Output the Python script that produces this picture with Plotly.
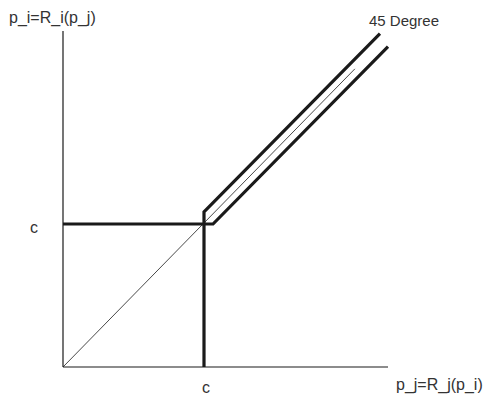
import plotly.graph_objects as go

# cost level c = 1, everything in units of c
c = 1.0
eps = 0.064          # undercut step

# best response of firm i (thick, lower)
ri_x = [0.0, c + eps, 2.305]
ri_y = [c, c, 2.305 - eps]

# best response of firm j (thick, upper)
rj_x = [c, c, 2.248]
rj_y = [0.0, c + 0.084, 2.248 + 0.084]

# 45 degree line
deg_x = [0.0, 2.07]
deg_y = [0.0, 2.085]

# axes
xaxis_x = [0.0, 2.305]
xaxis_y = [0.0, 0.0]
yaxis_x = [0.0, 0.0]
yaxis_y = [0.0, 2.35]

W, H = 488, 397
ink = "#1a1a1a"

fig = go.Figure()
fig.add_trace(go.Scatter(x=xaxis_x, y=xaxis_y, mode="lines",
                         line=dict(color=ink, width=1.2)))
fig.add_trace(go.Scatter(x=yaxis_x, y=yaxis_y, mode="lines",
                         line=dict(color=ink, width=1.2)))
fig.add_trace(go.Scatter(x=deg_x, y=deg_y, mode="lines",
                         line=dict(color=ink, width=0.8)))
fig.add_trace(go.Scatter(x=ri_x, y=ri_y, mode="lines",
                         line=dict(color=ink, width=3.2)))
fig.add_trace(go.Scatter(x=rj_x, y=rj_y, mode="lines",
                         line=dict(color=ink, width=3.2)))

annotations = [
    dict(text="p_i=R_i(p_j)", x=8, y=18, xanchor="left", yanchor="middle", size=16),
    dict(text="c", x=34, y=227, xanchor="center", yanchor="middle", size=16),
    dict(text="c", x=206, y=397, xanchor="center", yanchor="bottom", size=16),
    dict(text="p_j=R_j(p_i)", x=395, y=385, xanchor="left", yanchor="middle", size=16),
    dict(text="45 Degree", x=368, y=20, xanchor="left", yanchor="middle", size=15),
]
for a in annotations:
    fig.add_annotation(
        text=a["text"], x=a["x"] / W, y=1 - a["y"] / H,
        xref="paper", yref="paper", xanchor=a["xanchor"], yanchor=a["yanchor"],
        showarrow=False, borderpad=0,
        font=dict(family="Liberation Sans, Arial, sans-serif", size=a["size"],
                  color="#333333"),
    )

fig.update_layout(
    width=W, height=H,
    margin=dict(l=0, r=0, t=0, b=0),
    paper_bgcolor="white", plot_bgcolor="white",
    showlegend=False,
    xaxis=dict(range=[-63 / 141, (W - 63) / 141], visible=False, fixedrange=True),
    yaxis=dict(range=[(367 - H) / 143, 367 / 143], visible=False, fixedrange=True),
)

# drop the default body margin so the figure fills the window exactly
fig.write_html(
    "out.html",
    config={"displayModeBar": False},
    post_script="document.body.style.margin='0';document.body.style.overflow='hidden';",
)
